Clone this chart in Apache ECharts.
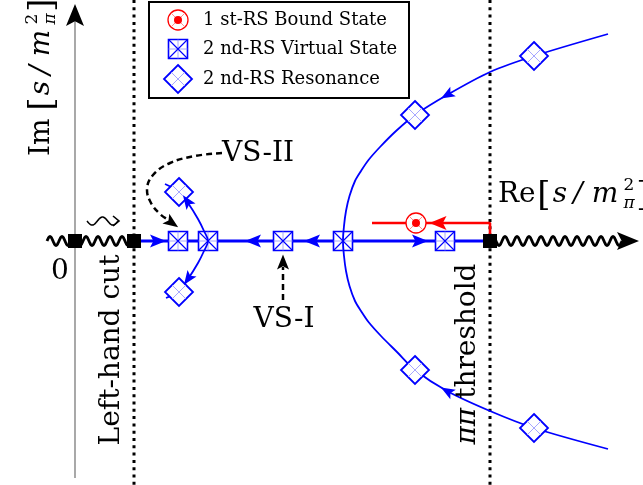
<!DOCTYPE html>
<html><head><meta charset="utf-8">
<script src="https://cdn.jsdelivr.net/npm/echarts@6/dist/echarts.min.js"></script>
<style>html,body{margin:0;padding:0;background:#fff}#c{width:643px;height:485px}</style>
</head><body><div id="c"></div>
<script>
// Data coordinates: x to the right, y = Im (0 on the real axis), 1 unit ~ 1 px
const leftCutX = 134;
const thresholdX = 490;
const leftCutRange = [47, 134];
const rightCutRange = [490, 622];
const squiggle = [[87, 119, 20]];
const imAxis = [[75, -237], [75, 228]];
const realLine = [[134, 0], [490, 0]];
const virtualStates = [[178, 0], [208, 0], [283, 0], [343, 0], [445, 0]];
const resonances = [[179, 49], [179, -51], [415, 126], [534, 185], [415, -129], [534, -187]];
const boundStates = [[416, 18]];
const cutEnds = [[75, 0], [134, 0], [490, 0]];
const trajectoryCurve = [
  [608, 207], [534, 185], [490, 169], [447, 146], [415, 126], [396, 110], [380, 94], [368.5, 81],
  [361, 70], [355, 60], [349.5, 45], [346, 30], [344, 15], [343, 0], [344, -15], [346, -30],
  [349.5, -45], [355, -60], [361, -70], [368.5, -81], [381, -95], [397, -111], [415, -129],
  [447, -150], [490, -170], [534, -187], [608, -208]
];
const vs2Arc = [[165, 57], [179, 49], [188, 38], [198, 22], [204, 10], [208, 0], [204, -10], [198, -22], [188, -38], [179, -50], [166, -57]];
const boundPath = [[490, 3], [490, 18], [372, 18]];
// [x, y, rotation deg]
const blueArrows = [[158, 0, -90], [253, 0, 90], [312, 0, 90], [420, 0, -90]];
const curveArrows = [[447, 146, 120], [447, -150, 60], [187, 40, 35], [188, -38, 145]];
const redArrows = [[438, 18, 90]];
const vs2Pointer = [[222, 88], [195, 85], [170, 78], [153, 66], [147, 51], [151, 38], [160, 27], [167, 22]];
const vs1Pointer = [[283, -59], [283, -26]];
const pointerHeads = [[172, 18, -125], [283, -21, 0]];
const axisHeads = [[628, 0, -90], [75, 226, 0]];
const legendMarkers = [[178, 221], [178, 192], [178, 162]];
const legendLabels = ['1 st-RS Bound State', '2 nd-RS Virtual State', '2 nd-RS Resonance'];

const BLUE = '#0000ff', RED = '#ff0000', LBLUE = '#9090ff', LRED = '#ff8080';
const ARROW = 'path://M5,0 L10,14 L5,11 L0,14 Z';
const PLUS = 'path://M5,0 L5,10 M0,5 L10,5';
const CROSS = 'path://M0,0 L10,10 M10,0 L0,10';
const SERIF = '"DejaVu Serif"';

function pts(list) { return list.map(p => [p[0], p[1]]); }
function rotItems(list) { return list.map(p => ({ value: [p[0], p[1]], symbolRotate: p[2] })); }
function sc(data, symbol, size, itemStyle, z) {
  itemStyle.opacity = 1;
  return { type: 'scatter', data, symbol, symbolSize: size, itemStyle, z, silent: true };
}
function ln(data, lineStyle, z, smooth) {
  return { type: 'line', data, showSymbol: false, symbol: 'none', lineStyle, z, smooth: smooth || false, silent: true };
}

const vsData = virtualStates.concat([legendMarkers[1]]);
const resData = resonances.concat([legendMarkers[2]]);
const bsData = boundStates.concat([legendMarkers[0]]);

// unit label "X [s/m^2_pi]" built from pieces (offsets are layout)
function unitLabel(prefix, pw, x, y, rotation) {
  const f = (s) => s + 'px ' + SERIF;
  const parts = [
    { t: prefix, font: f(28), cx: 0, dy: 0, al: 'left' },
    { t: '[', font: f(34), cx: pw + 8, dy: 1 },
    { t: 's', font: 'italic ' + f(28), cx: pw + 24, dy: 0 },
    { t: '/', font: 'italic ' + f(28), cx: pw + 42, dy: 0 },
    { t: 'm', font: 'italic ' + f(28), cx: pw + 69, dy: 0 },
    { t: '2', font: f(17), cx: pw + 93, dy: -9 },
    { t: 'π', font: 'italic ' + f(17), cx: pw + 93, dy: 9 },
    { t: ']', font: f(34), cx: pw + 107, dy: 1 }
  ];
  const children = parts.map(p => ({ type: 'text', x: p.cx, y: p.dy, style: { text: p.t, font: p.font, fill: '#000', align: p.al || 'center', verticalAlign: 'middle' } }));
  return { type: 'group', x, y, rotation, children, z: 20 };
}

const chart = echarts.init(document.getElementById('c'), null, { renderer: 'canvas' });
const graphicEls = [
  { type: 'rect', shape: { x: 149, y: 2, width: 260, height: 96 }, style: { fill: '#fff', stroke: '#000', lineWidth: 2 }, z: 1 },
  unitLabel('Im', 44, 42, 156, Math.PI / 2),
  unitLabel('Re', 38, 498, 195, 0),
  { type: 'text', x: 60, y: 272, style: { text: '0', font: '28px ' + SERIF, fill: '#000', align: 'center', verticalAlign: 'middle' }, z: 20 },
  { type: 'text', x: 112, y: 350, rotation: Math.PI / 2, style: { text: 'Left-hand cut', font: '28px ' + SERIF, fill: '#000', align: 'center', verticalAlign: 'middle' }, z: 20 },
  { type: 'text', x: 468, y: 354, rotation: Math.PI / 2, style: { text: '{it|ππ} threshold', font: '28px ' + SERIF, fill: '#000', align: 'center', verticalAlign: 'middle', rich: { it: { fontFamily: 'DejaVu Serif', fontStyle: 'italic', fontSize: 28 } } }, z: 20 },
  { type: 'text', x: 222, y: 154, style: { text: 'VS-II', font: '28px ' + SERIF, fill: '#000', align: 'left', verticalAlign: 'middle' }, z: 20 },
  { type: 'text', x: 284, y: 320, style: { text: 'VS-I', font: '28px ' + SERIF, fill: '#000', align: 'center', verticalAlign: 'middle' }, z: 20 }
];
legendLabels.forEach((t, i) => {
  graphicEls.push({ type: 'text', x: 203, y: [20, 49, 79][i], style: { text: t, font: '18px ' + SERIF, fill: '#000', align: 'left', verticalAlign: 'middle' }, z: 20 });
});

const option = {
  animation: false,
  backgroundColor: '#fff',
  grid: { left: 0, right: 0, top: 0, bottom: 0 },
  xAxis: { type: 'value', min: 0, max: 643, show: false },
  yAxis: { type: 'value', min: -244, max: 241, show: false },
  graphic: { elements: graphicEls },
  series: [
    ln([[leftCutX, 241], [leftCutX, -244]], { color: '#000', width: 3, type: [3, 4.3] }, 1),
    ln([[thresholdX, 241], [thresholdX, -244]], { color: '#000', width: 3, type: [3, 4.3] }, 1),
    ln(imAxis, { color: '#7a7a7a', width: 1.3 }, 1),
    {
      type: 'custom', z: 2, silent: true, data: [leftCutRange, rightCutRange],
      renderItem: function (params, api) {
        const a = api.coord([api.value(0), 0]);
        const b = api.coord([api.value(1), 0]);
        const p = [];
        for (let x = a[0]; x <= b[0] + 0.01; x += 0.5) {
          p.push([x, a[1] - 4.5 * Math.sin((x - a[0]) / 12 * 2 * Math.PI)]);
        }
        return { type: 'polyline', shape: { points: p }, style: { stroke: '#000', lineWidth: 2.8, fill: null } };
      }
    },
    {
      type: 'custom', z: 9, silent: true, data: squiggle,
      renderItem: function (params, api) {
        const a = api.coord([api.value(0), api.value(2)]);
        const b = api.coord([api.value(1), api.value(2)]);
        const p = [];
        const L = b[0] - a[0] - 1;
        for (let x = 0; x <= L + 0.01; x += 0.5) {
          p.push([a[0] + x, a[1] + 4 * Math.sin(x / L * 3 * Math.PI)]);
        }
        const tip = [b[0], a[1]];
        return {
          type: 'group', children: [
            { type: 'polyline', shape: { points: p }, style: { stroke: '#000', lineWidth: 1.6, fill: null } },
            { type: 'polyline', shape: { points: [[tip[0] - 6, tip[1] - 5], tip, [tip[0] - 6, tip[1] + 5]] }, style: { stroke: '#000', lineWidth: 1.6, fill: null } }
          ]
        };
      }
    },
    ln(realLine, { color: BLUE, width: 3 }, 3),
    ln(boundPath, { color: RED, width: 2.6 }, 3),
    // virtual states (square + cross)
    sc(vsData, 'rect', 19, { color: '#fff', borderColor: BLUE, borderWidth: 1.6 }, 4),
    sc(vsData, PLUS, 19, { color: 'transparent', borderColor: LBLUE, borderWidth: 0.8 }, 5),
    sc(vsData, CROSS, 19, { color: 'transparent', borderColor: BLUE, borderWidth: 1.1 }, 5),
    // trajectories
    ln(trajectoryCurve, { color: BLUE, width: 1.8 }, 6, 0.3),
    ln(vs2Arc, { color: BLUE, width: 1.8 }, 6, 0.35),
    // resonances (diamond)
    sc(resData, 'diamond', 28, { color: '#fff', borderColor: BLUE, borderWidth: 1.8 }, 7),
    sc(resData, CROSS, 14, { color: 'transparent', borderColor: LBLUE, borderWidth: 0.8 }, 8),
    // bound state
    sc(bsData, 'circle', 20, { color: '#fff', borderColor: RED, borderWidth: 1.3 }, 7),
    sc(bsData, CROSS, 14, { color: 'transparent', borderColor: LRED, borderWidth: 0.9 }, 8),
    sc(bsData, 'circle', 8, { color: RED }, 8),
    // arrows
    sc(rotItems(blueArrows), ARROW, [13, 16], { color: BLUE }, 9),
    sc(rotItems(curveArrows), ARROW, [11, 14], { color: BLUE }, 9),
    sc(rotItems(redArrows), ARROW, [14, 17], { color: RED }, 9),
    ln(vs2Pointer, { color: '#000', width: 2.5, type: [6, 4] }, 9, 0.4),
    ln(vs1Pointer, { color: '#000', width: 2.5, type: [6, 4] }, 9),
    sc(rotItems(pointerHeads), ARROW, [12, 15], { color: '#000' }, 9),
    sc(rotItems(axisHeads), ARROW, [18, 22], { color: '#000' }, 9),
    sc(pts(cutEnds), 'rect', 14, { color: '#000' }, 9)
  ]
};
chart.setOption(option);
</script></body></html>
